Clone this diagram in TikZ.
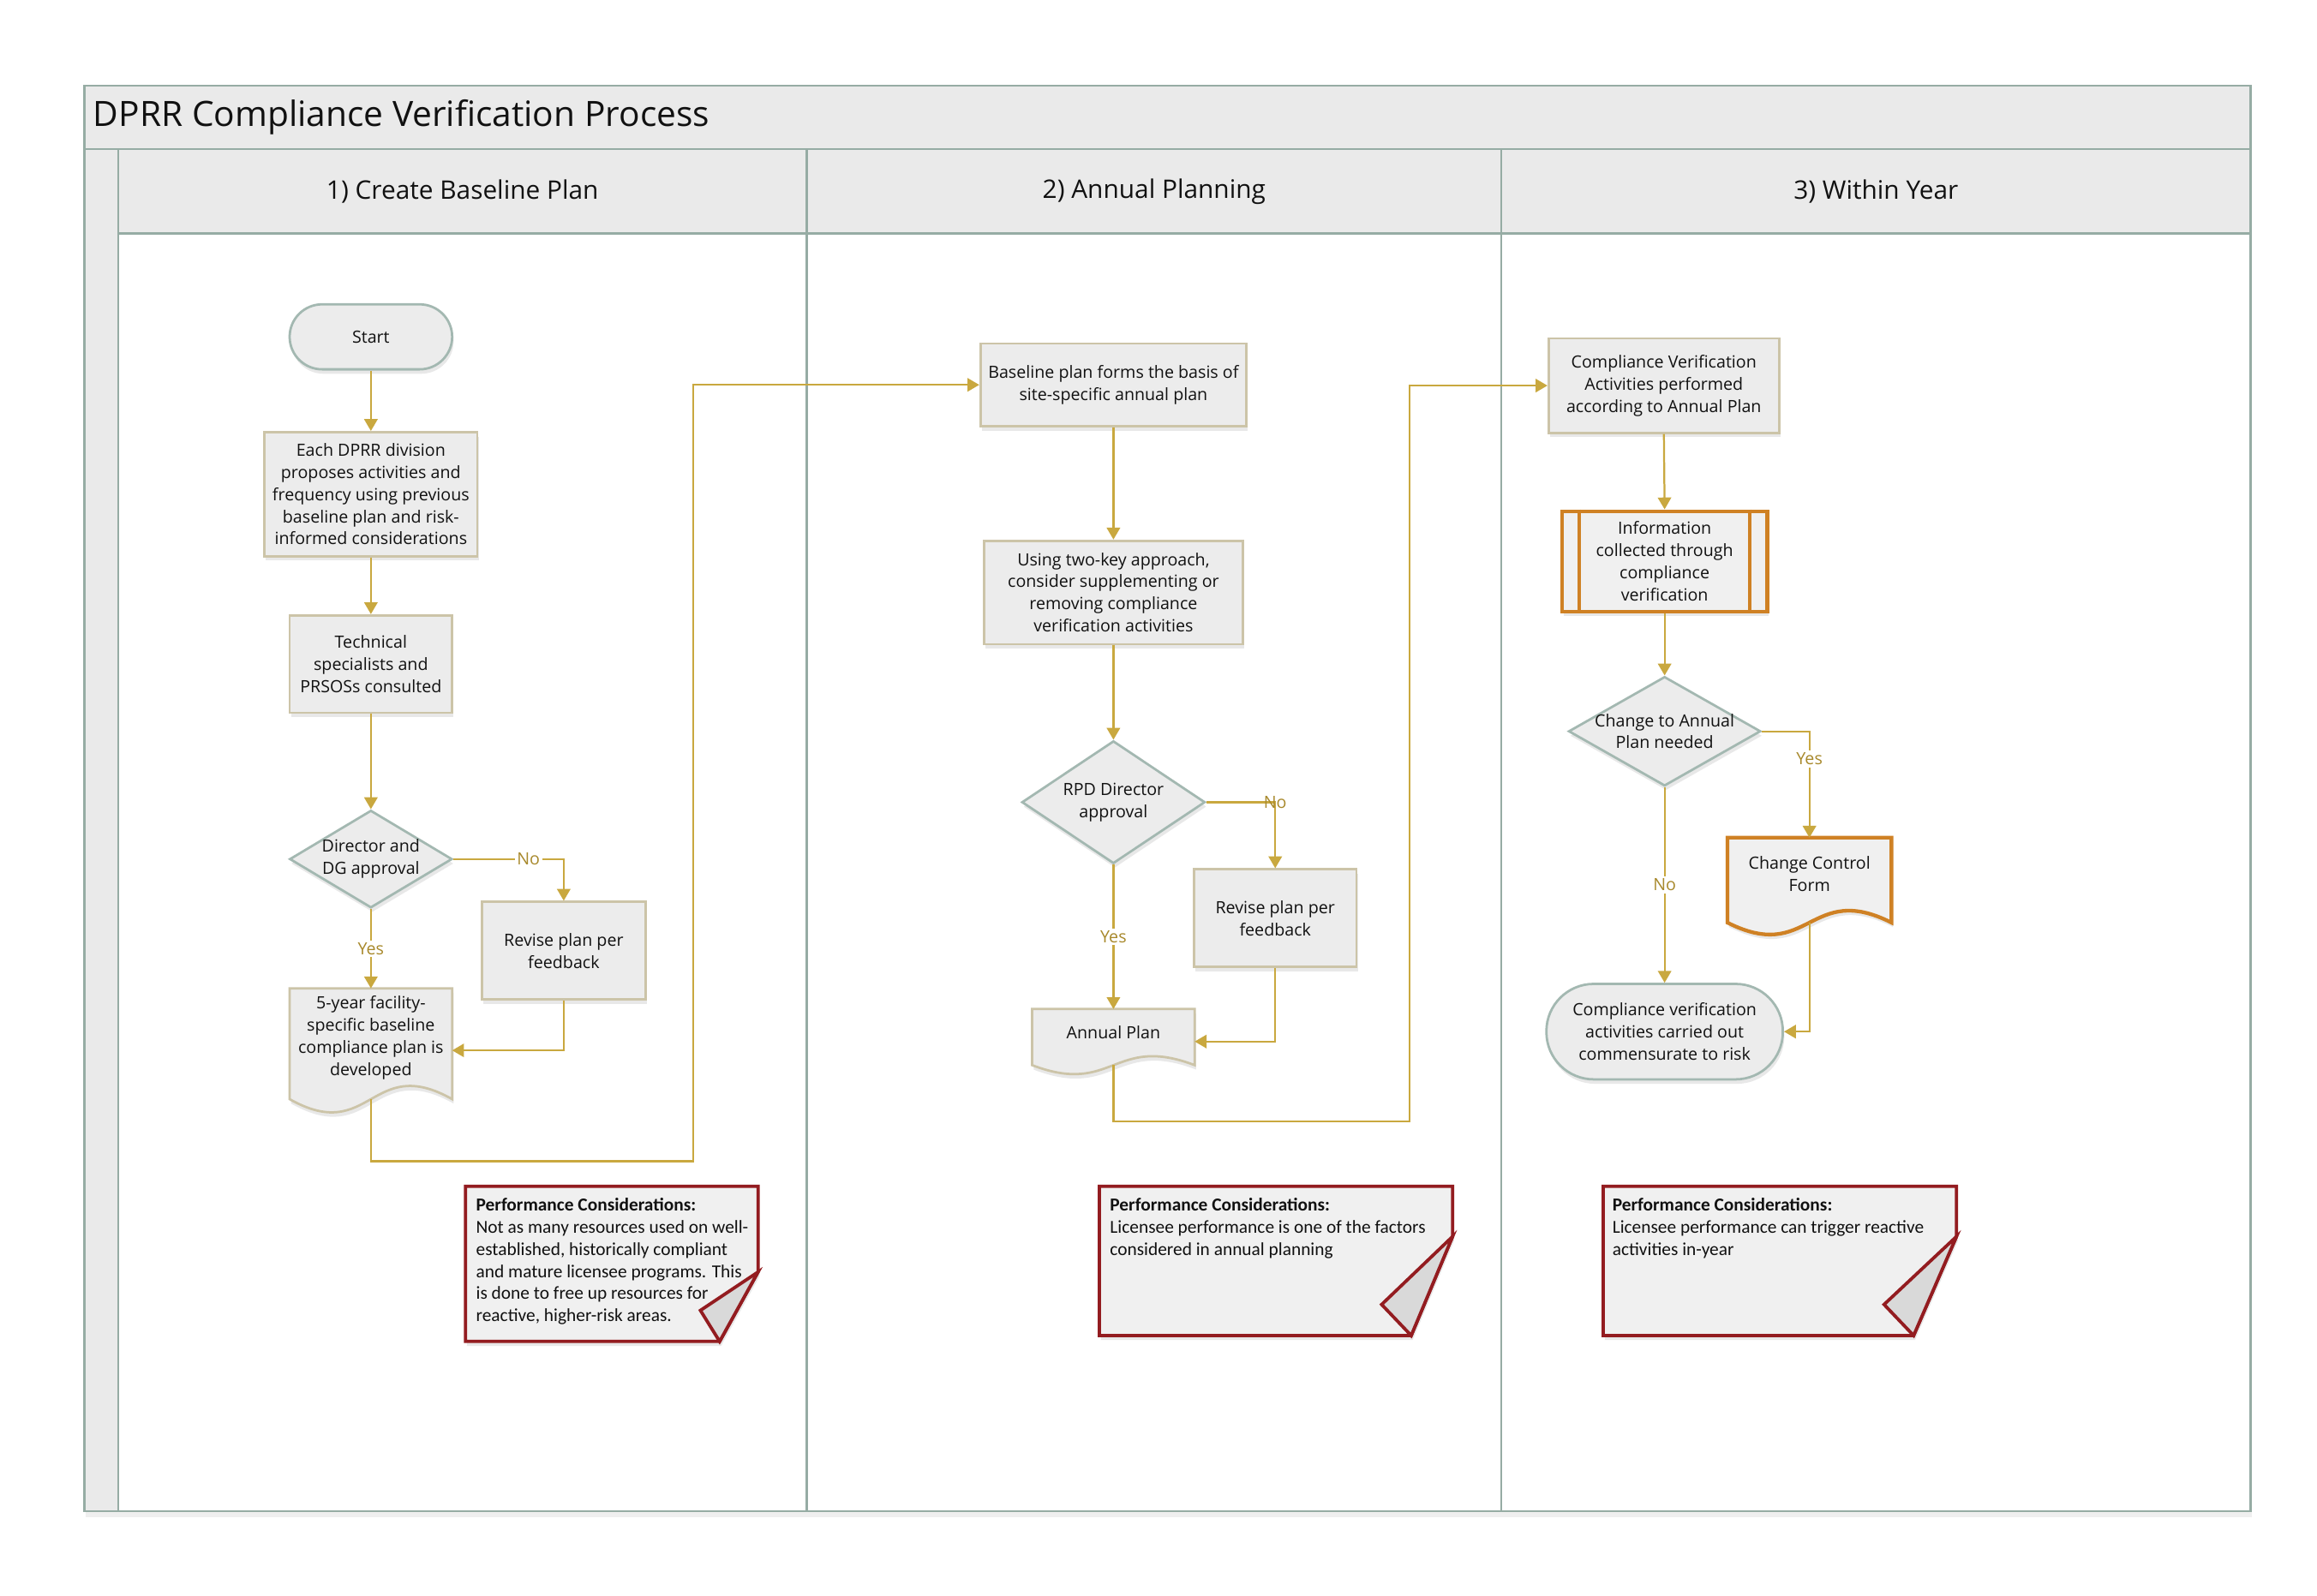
\documentclass[tikz,border=0pt]{standalone}
\usepackage{fontspec}
\setmainfont{Open Sans}
\newfontfamily\notefont{Carlito}
\usetikzlibrary{shapes.geometric,arrows.meta,calc,shadows}

\definecolor{framec}{HTML}{96ACA4}
\definecolor{headfill}{HTML}{EAEAEA}
\definecolor{procb}{HTML}{CCC4A8}
\definecolor{procfill}{HTML}{ECECEC}
\definecolor{termb}{HTML}{A3B8B1}
\definecolor{orangeb}{HTML}{CF8124}
\definecolor{connc}{HTML}{C9A83F}
\definecolor{labc}{HTML}{A8892C}
\definecolor{noteb}{HTML}{931C20}
\definecolor{notefill}{HTML}{F0F0F0}
\definecolor{foldfill}{HTML}{D9D9D9}
\definecolor{txt}{HTML}{111111}

\newcommand{\mydoc}[3]{%
  \path[#3] (#1.north west) -- (#1.north east) -- (#1.south east)
    .. controls ($(#1.south)+(0,-#2)$) and ($(#1.south)+(0,#2)$) .. (#1.south west) -- cycle;}

\begin{document}
\begin{tikzpicture}[x=1pt,y=-1pt,
  softshadow/.style={drop shadow={shadow xshift=1pt,shadow yshift=-3pt,opacity=0.15,fill=black!60}},
  bodyfont/.style={font=\fontsize{11.4}{15}\selectfont},
  box/.style={draw=procb, line width=1.6pt, fill=procfill, inner sep=0pt, align=center, bodyfont, text=txt, softshadow},
  term/.style={box, draw=termb},
  dia/.style={diamond, draw=termb, line width=1.6pt, fill=procfill, inner sep=0pt, softshadow},
  dlabel/.style={align=center, bodyfont, text=txt, inner sep=0pt},
  docn/.style={inner sep=0pt, outer sep=0pt},
  docline/.style={draw=procb, line width=1.6pt, fill=procfill, softshadow},
  docorange/.style={draw=orangeb, line width=2.5pt, fill=notefill, softshadow},
  doctext/.style={align=center, bodyfont, text=txt, inner sep=0pt},
  conn/.style={draw=connc, line width=1.3pt, -{Triangle[width=9pt,length=8pt]}},
  lab/.style={font=\fontsize{11.4}{13}\selectfont, text=labc, fill=white, inner sep=1.5pt},
  labnf/.style={font=\fontsize{11.4}{13}\selectfont, text=labc, inner sep=1pt},
  framebox/.style={draw=framec, line width=1.5pt},
  headcell/.style={draw=framec, line width=1.5pt, fill=headfill},
  notestyle/.style={draw=noteb, line width=2.2pt, fill=notefill, line join=miter, softshadow},
  foldstyle/.style={draw=noteb, line width=2.2pt, fill=foldfill, line join=miter},
  notetext/.style={align=left, anchor=north west, inner sep=0pt, text=txt, font=\notefont\fontsize{12.4}{14.9}\selectfont},
  headtext/.style={font=\fontsize{17.3}{20}\selectfont, text=txt, inner sep=0pt}
]
\useasboundingbox (0,0) rectangle (1568,1080.3);

% ---------- pool / lanes ----------
\path[framebox, fill=white, drop shadow={shadow xshift=1pt,shadow yshift=-4pt,opacity=0.1,fill=black!60}] (57,58) rectangle (1523,1023);
\path[headcell] (57,58) rectangle (1523,101);
\path[headcell] (57,101) rectangle (80,1023);
\path[headcell] (80,101) rectangle (546,158);
\path[headcell] (546,101) rectangle (1016,158);
\path[headcell] (1016,101) rectangle (1523,158);
\draw[framebox] (546,158) -- (546,1023);
\draw[framebox] (1016,158) -- (1016,1023);
\draw[framebox] (57,58) rectangle (1523,1023);

\node[anchor=west, inner sep=0pt, text=txt, font=\fontsize{23.6}{27}\selectfont] (title) at (63,79.5) {DPRR Compliance Verification Process};
\node[headtext] (h1) at (313,129.5) {1) Create Baseline Plan};
\node[headtext] (h2) at (781,129.5) {2) Annual Planning};
\node[headtext] (h3) at (1269.5,129.5) {3) Within Year};

% ---------- lane 1 ----------
\node[term, rounded corners=22pt, minimum width=110, minimum height=44] (start) at (251,228) {Start};
\node[box, minimum width=144, minimum height=84] (div) at (251,334.5) {Each DPRR division\\proposes activities and\\frequency using previous\\baseline plan and risk-\\informed considerations};
\node[box, minimum width=110, minimum height=66] (tech) at (251,449.5) {Technical\\specialists and\\PRSOSs consulted};
\node[dia, minimum width=110, minimum height=66, label={[dlabel]center:Director and\\DG approval}] (dir) at (251,581.5) {};
\node[box, minimum width=111, minimum height=66] (rev1) at (381.5,643.5) {Revise plan per\\feedback};
\node[docn, minimum width=110, minimum height=75] (doc1) at (251,706.5) {};
\mydoc{doc1}{31}{docline}
\node[doctext] (doc1t) at (251,702.5) {5-year facility-\\specific baseline\\compliance plan is\\developed};

% ---------- lane 2 ----------
\node[box, minimum width=180, minimum height=56] (base) at (753.5,260.5) {Baseline plan forms the basis of\\site-specific annual plan};
\node[box, minimum width=175, minimum height=70] (twokey) at (753.5,401) {Using two-key approach,\\consider supplementing or\\removing compliance\\verification activities};
\node[dia, minimum width=124, minimum height=83, label={[dlabel]center:RPD Director\\approval}] (rpd) at (753.5,543) {};
\node[box, minimum width=110, minimum height=66] (rev2) at (863,621.5) {Revise plan per\\feedback};
\node[docn, minimum width=110, minimum height=38] (doc2) at (753.5,702) {};
\mydoc{doc2}{21}{docline}
\node[doctext] (doc2t) at (753.5,699) {Annual Plan};

% ---------- lane 3 ----------
\node[box, minimum width=156, minimum height=64] (cv) at (1126,261) {Compliance Verification\\Activities performed\\according to Annual Plan};
\node[box, draw=orangeb, line width=2.5pt, fill=notefill, minimum width=139, minimum height=68] (info) at (1126.5,380) {Information\\collected through\\compliance\\verification};
\draw[draw=orangeb, line width=2.5pt] ([xshift=13pt]info.north west) -- ([xshift=13pt]info.south west);
\draw[draw=orangeb, line width=2.5pt] ([xshift=-13pt]info.north east) -- ([xshift=-13pt]info.south east);
\node[dia, minimum width=130, minimum height=74, label={[dlabel]center:Change to Annual\\Plan needed}] (chg) at (1126.5,495) {};
\node[docn, minimum width=111, minimum height=57.5] (ccf) at (1224.5,595.75) {};
\mydoc{ccf}{28}{docorange}
\node[doctext] (ccft) at (1224.5,591.5) {Change Control\\Form};
\node[term, rounded corners=32pt, minimum width=160, minimum height=64.6] (cvdone) at (1126.5,698.3) {Compliance verification\\activities carried out\\commensurate to risk};

% ---------- connectors ----------
\draw[conn] (start.south) -- (div.north);
\draw[conn] (div.south) -- (tech.north);
\draw[conn] (tech.south) -- (dir.north);
\draw[conn] (dir.east) -| node[lab, pos=0.34]{No} (rev1.north);
\draw[conn] (dir.south) -- node[lab]{Yes} (doc1.north);
\draw[conn] (rev1.south) |- ([yshift=-4.5pt]doc1.east);
\coordinate (j1) at (469,786);
\draw[conn] (doc1.south) |- (j1) |- (base.west);

\draw[conn] (base.south) -- (twokey.north);
\draw[conn] (twokey.south) -- (rpd.north);
\draw[conn] (rpd.east) -| node[labnf, pos=0.5]{No} (rev2.north);
\draw[conn] (rpd.south) -- node[lab]{Yes} (doc2.north);
\draw[conn] (rev2.south) |- ([yshift=-3pt]doc2.east);
\coordinate (j2) at (954,759);
\draw[conn] (doc2.south) |- (j2) |- (cv.west);

\draw[conn] (cv.south) -- (info.north);
\draw[conn] (info.south) -- (chg.north);
\draw[conn] (chg.east) -| node[lab, pos=0.63]{Yes} (ccf.north);
\draw[conn] (chg.south) -- node[lab]{No} (cvdone.north);
\draw[conn] (ccf.south) |- (cvdone.east);

% ---------- notes ----------
\path[notestyle] (315,803) -- (513,803) -- (513,861) -- (487,908) -- (315,908) -- cycle;
\path[foldstyle] (513,861) -- (474,887) -- (487,908) -- cycle;
\node[notetext] (note1) at (322,811) {\textbf{Performance Considerations:}\\Not as many resources used on well-\\established, historically compliant\\and mature licensee programs. This\\is done to free up resources for\\reactive, higher-risk areas.};

\path[notestyle] (744,803) -- (983,803) -- (983,837) -- (955,904) -- (744,904) -- cycle;
\path[foldstyle] (983,837) -- (935,883) -- (955,904) -- cycle;
\node[notetext] (note2) at (751,811) {\textbf{Performance Considerations:}\\Licensee performance is one of the factors\\considered in annual planning};

\path[notestyle] (1085,803) -- (1324,803) -- (1324,837) -- (1295,904) -- (1085,904) -- cycle;
\path[foldstyle] (1324,837) -- (1275,883) -- (1295,904) -- cycle;
\node[notetext] (note3) at (1091,811) {\textbf{Performance Considerations:}\\Licensee performance can trigger reactive\\activities in-year};
\end{tikzpicture}
\end{document}
